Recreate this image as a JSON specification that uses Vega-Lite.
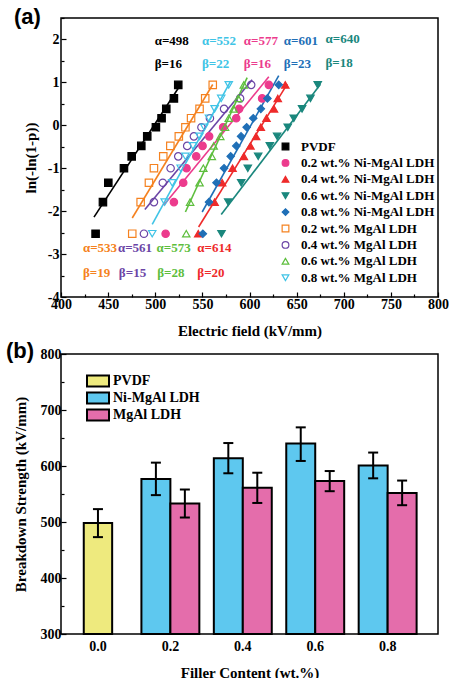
{
"$schema": "https://vega.github.io/schema/vega-lite/v6.json",
"padding": {"top": 5, "left": 5, "right": 5, "bottom": 0},
"spacing": 0,
"resolve": {"scale": {"fill": "independent", "stroke": "independent", "shape": "independent", "color": "independent"}, "legend": {"fill": "independent", "stroke": "independent", "shape": "independent", "color": "independent"}},
"config": {
 "view": {"stroke": "black", "strokeWidth": 1.5},
 "axis": {"labelFont": "Liberation Serif", "labelFontWeight": "bold", "labelFontSize": 14, "labelColor": "black", "titleFont": "Liberation Serif", "titleFontWeight": "bold", "titleFontSize": 15, "titleColor": "black", "tickColor": "black", "tickWidth": 1.2, "grid": false, "domain": false}
},
"vconcat": [
{
 "width": 377, "height": 279,
 "title": {"text": "(a)", "anchor": "start", "frame": "group", "dx": -47, "offset": -18, "fontSize": 22, "font": "Liberation Sans", "fontWeight": "bold", "color": "black"},
 "encoding": {
  "x": {"field": "x", "type": "quantitative", "scale": {"domain": [400, 800], "nice": false, "zero": false},
   "axis": {"title": "Electric field (kV/mm)", "values": [400,425,450,475,500,525,550,575,600,625,650,675,700,725,750,775,800], "labelExpr": "datum.value % 50 === 0 ? '' + datum.value : ''", "tickSize": {"condition": {"test": "datum.value % 50 === 0", "value": -5}, "value": -3}, "labelFlush": false, "labelOverlap": false, "labelPadding": 5, "titlePadding": 10}},
  "y": {"field": "y", "type": "quantitative", "scale": {"domain": [-4, 2.5], "nice": false, "zero": false},
   "axis": {"title": "ln(-ln(1-p))", "values": [-4,-3.5,-3,-2.5,-2,-1.5,-1,-0.5,0,0.5,1,1.5,2,2.5], "labelExpr": "datum.value % 1 === 0 ? '' + datum.value : ''", "tickSize": {"condition": {"test": "datum.value % 1 === 0", "value": -5}, "value": -3}, "labelFlush": false, "labelOverlap": false, "labelPadding": 7, "titlePadding": 9}}
 },
 "layer": [
  {
   "data": {"values": [
    {"s": "PVDF", "x": 435, "y": -2.14}, {"s": "PVDF", "x": 527, "y": 0.95},
    {"s": "0.2 wt.% MgAl LDH", "x": 475.6, "y": -2.16}, {"s": "0.2 wt.% MgAl LDH", "x": 561, "y": 0.95},
    {"s": "0.4 wt.% MgAl LDH", "x": 489, "y": -1.96}, {"s": "0.4 wt.% MgAl LDH", "x": 602.8, "y": 1.06},
    {"s": "0.8 wt.% MgAl LDH", "x": 496.8, "y": -2.31}, {"s": "0.8 wt.% MgAl LDH", "x": 580, "y": 1.03},
    {"s": "0.2 wt.% Ni-MgAl LDH", "x": 509, "y": -1.86}, {"s": "0.2 wt.% Ni-MgAl LDH", "x": 620.5, "y": 1.13},
    {"s": "0.6 wt.% MgAl LDH", "x": 532, "y": -2.02}, {"s": "0.6 wt.% MgAl LDH", "x": 597.5, "y": 1.11},
    {"s": "0.8 wt.% Ni-MgAl LDH", "x": 549.8, "y": -2.02}, {"s": "0.8 wt.% Ni-MgAl LDH", "x": 631, "y": 1.16},
    {"s": "0.4 wt.% Ni-MgAl LDH", "x": 546, "y": -2.37}, {"s": "0.4 wt.% Ni-MgAl LDH", "x": 640, "y": 0.96},
    {"s": "0.6 wt.% Ni-MgAl LDH", "x": 570, "y": -2.08}, {"s": "0.6 wt.% Ni-MgAl LDH", "x": 675.3, "y": 0.955}
   ]},
   "mark": {"type": "line", "strokeWidth": 1.6},
   "encoding": {
    "detail": {"field": "s", "type": "nominal"},
    "color": {"field": "s", "type": "nominal", "legend": null,
     "scale": {"domain": ["0.2 wt.% Ni-MgAl LDH","PVDF","0.4 wt.% Ni-MgAl LDH","0.6 wt.% Ni-MgAl LDH","0.8 wt.% Ni-MgAl LDH","0.2 wt.% MgAl LDH","0.4 wt.% MgAl LDH","0.6 wt.% MgAl LDH","0.8 wt.% MgAl LDH"],
      "range": ["#EC3B8D","#000000","#EE2B2B","#1A877D","#1F6FB7","#F58220","#6B45A6","#5DBE3D","#40C4E6"]}}
   }
  },
  {
   "data": {"values": [
    {"s": "PVDF", "y": -2.525, "x": 436.7}, {"s": "PVDF", "y": -1.789, "x": 444.5}, {"s": "PVDF", "y": -1.338, "x": 450.2}, {"s": "PVDF", "y": -1.0, "x": 466.8}, {"s": "PVDF", "y": -0.723, "x": 475.0}, {"s": "PVDF", "y": -0.48, "x": 485.2}, {"s": "PVDF", "y": -0.257, "x": 491.5}, {"s": "PVDF", "y": -0.046, "x": 500.7}, {"s": "PVDF", "y": 0.165, "x": 506.7}, {"s": "PVDF", "y": 0.383, "x": 511.7}, {"s": "PVDF", "y": 0.627, "x": 519.8}, {"s": "PVDF", "y": 0.942, "x": 524.4},
    {"s": "0.2 wt.% Ni-MgAl LDH", "y": -2.525, "x": 511}, {"s": "0.2 wt.% Ni-MgAl LDH", "y": -1.789, "x": 519.8}, {"s": "0.2 wt.% Ni-MgAl LDH", "y": -1.338, "x": 529.7}, {"s": "0.2 wt.% Ni-MgAl LDH", "y": -1.0, "x": 533.2}, {"s": "0.2 wt.% Ni-MgAl LDH", "y": -0.723, "x": 543.5}, {"s": "0.2 wt.% Ni-MgAl LDH", "y": -0.48, "x": 550.2}, {"s": "0.2 wt.% Ni-MgAl LDH", "y": -0.257, "x": 557.2}, {"s": "0.2 wt.% Ni-MgAl LDH", "y": -0.046, "x": 572}, {"s": "0.2 wt.% Ni-MgAl LDH", "y": 0.165, "x": 585.9}, {"s": "0.2 wt.% Ni-MgAl LDH", "y": 0.383, "x": 589}, {"s": "0.2 wt.% Ni-MgAl LDH", "y": 0.627, "x": 613.4}, {"s": "0.2 wt.% Ni-MgAl LDH", "y": 0.942, "x": 620.5},
    {"s": "0.4 wt.% Ni-MgAl LDH", "y": -2.525, "x": 545.6}, {"s": "0.4 wt.% Ni-MgAl LDH", "y": -1.789, "x": 563}, {"s": "0.4 wt.% Ni-MgAl LDH", "y": -1.338, "x": 571}, {"s": "0.4 wt.% Ni-MgAl LDH", "y": -1.0, "x": 582}, {"s": "0.4 wt.% Ni-MgAl LDH", "y": -0.723, "x": 594}, {"s": "0.4 wt.% Ni-MgAl LDH", "y": -0.48, "x": 601}, {"s": "0.4 wt.% Ni-MgAl LDH", "y": -0.257, "x": 607}, {"s": "0.4 wt.% Ni-MgAl LDH", "y": -0.046, "x": 612}, {"s": "0.4 wt.% Ni-MgAl LDH", "y": 0.165, "x": 618}, {"s": "0.4 wt.% Ni-MgAl LDH", "y": 0.383, "x": 626}, {"s": "0.4 wt.% Ni-MgAl LDH", "y": 0.627, "x": 630}, {"s": "0.4 wt.% Ni-MgAl LDH", "y": 0.942, "x": 638},
    {"s": "0.6 wt.% Ni-MgAl LDH", "y": -2.525, "x": 570.3}, {"s": "0.6 wt.% Ni-MgAl LDH", "y": -1.789, "x": 577.4}, {"s": "0.6 wt.% Ni-MgAl LDH", "y": -1.338, "x": 591.2}, {"s": "0.6 wt.% Ni-MgAl LDH", "y": -1.0, "x": 598.2}, {"s": "0.6 wt.% Ni-MgAl LDH", "y": -0.723, "x": 609.2}, {"s": "0.6 wt.% Ni-MgAl LDH", "y": -0.48, "x": 621.6}, {"s": "0.6 wt.% Ni-MgAl LDH", "y": -0.257, "x": 629.3}, {"s": "0.6 wt.% Ni-MgAl LDH", "y": -0.046, "x": 640.6}, {"s": "0.6 wt.% Ni-MgAl LDH", "y": 0.165, "x": 647}, {"s": "0.6 wt.% Ni-MgAl LDH", "y": 0.383, "x": 655.8}, {"s": "0.6 wt.% Ni-MgAl LDH", "y": 0.627, "x": 664.7}, {"s": "0.6 wt.% Ni-MgAl LDH", "y": 0.942, "x": 672.4},
    {"s": "0.8 wt.% Ni-MgAl LDH", "y": -2.525, "x": 550.5}, {"s": "0.8 wt.% Ni-MgAl LDH", "y": -1.789, "x": 557}, {"s": "0.8 wt.% Ni-MgAl LDH", "y": -1.338, "x": 565}, {"s": "0.8 wt.% Ni-MgAl LDH", "y": -1.0, "x": 573}, {"s": "0.8 wt.% Ni-MgAl LDH", "y": -0.723, "x": 580}, {"s": "0.8 wt.% Ni-MgAl LDH", "y": -0.48, "x": 586}, {"s": "0.8 wt.% Ni-MgAl LDH", "y": -0.257, "x": 591}, {"s": "0.8 wt.% Ni-MgAl LDH", "y": -0.046, "x": 597}, {"s": "0.8 wt.% Ni-MgAl LDH", "y": 0.165, "x": 604}, {"s": "0.8 wt.% Ni-MgAl LDH", "y": 0.383, "x": 612}, {"s": "0.8 wt.% Ni-MgAl LDH", "y": 0.627, "x": 619}, {"s": "0.8 wt.% Ni-MgAl LDH", "y": 0.942, "x": 631},
    {"s": "0.2 wt.% MgAl LDH", "y": -2.525, "x": 475.6}, {"s": "0.2 wt.% MgAl LDH", "y": -1.789, "x": 484.5}, {"s": "0.2 wt.% MgAl LDH", "y": -1.338, "x": 493.3}, {"s": "0.2 wt.% MgAl LDH", "y": -1.0, "x": 498.6}, {"s": "0.2 wt.% MgAl LDH", "y": -0.723, "x": 508.5}, {"s": "0.2 wt.% MgAl LDH", "y": -0.48, "x": 516}, {"s": "0.2 wt.% MgAl LDH", "y": -0.257, "x": 525}, {"s": "0.2 wt.% MgAl LDH", "y": -0.046, "x": 532}, {"s": "0.2 wt.% MgAl LDH", "y": 0.165, "x": 538}, {"s": "0.2 wt.% MgAl LDH", "y": 0.383, "x": 547}, {"s": "0.2 wt.% MgAl LDH", "y": 0.627, "x": 553}, {"s": "0.2 wt.% MgAl LDH", "y": 0.942, "x": 561},
    {"s": "0.4 wt.% MgAl LDH", "y": -2.525, "x": 488}, {"s": "0.4 wt.% MgAl LDH", "y": -1.789, "x": 498.6}, {"s": "0.4 wt.% MgAl LDH", "y": -1.338, "x": 508}, {"s": "0.4 wt.% MgAl LDH", "y": -1.0, "x": 516.3}, {"s": "0.4 wt.% MgAl LDH", "y": -0.723, "x": 524.4}, {"s": "0.4 wt.% MgAl LDH", "y": -0.48, "x": 533.9}, {"s": "0.4 wt.% MgAl LDH", "y": -0.257, "x": 541}, {"s": "0.4 wt.% MgAl LDH", "y": -0.046, "x": 549}, {"s": "0.4 wt.% MgAl LDH", "y": 0.165, "x": 558}, {"s": "0.4 wt.% MgAl LDH", "y": 0.383, "x": 573}, {"s": "0.4 wt.% MgAl LDH", "y": 0.627, "x": 590}, {"s": "0.4 wt.% MgAl LDH", "y": 0.942, "x": 601.8},
    {"s": "0.6 wt.% MgAl LDH", "y": -2.525, "x": 532.9}, {"s": "0.6 wt.% MgAl LDH", "y": -1.789, "x": 537}, {"s": "0.6 wt.% MgAl LDH", "y": -1.338, "x": 547}, {"s": "0.6 wt.% MgAl LDH", "y": -1.0, "x": 551}, {"s": "0.6 wt.% MgAl LDH", "y": -0.723, "x": 560}, {"s": "0.6 wt.% MgAl LDH", "y": -0.48, "x": 562}, {"s": "0.6 wt.% MgAl LDH", "y": -0.257, "x": 569}, {"s": "0.6 wt.% MgAl LDH", "y": -0.046, "x": 574}, {"s": "0.6 wt.% MgAl LDH", "y": 0.165, "x": 578}, {"s": "0.6 wt.% MgAl LDH", "y": 0.383, "x": 583}, {"s": "0.6 wt.% MgAl LDH", "y": 0.627, "x": 588}, {"s": "0.6 wt.% MgAl LDH", "y": 0.942, "x": 594},
    {"s": "0.8 wt.% MgAl LDH", "y": -2.525, "x": 496.8}, {"s": "0.8 wt.% MgAl LDH", "y": -1.789, "x": 510}, {"s": "0.8 wt.% MgAl LDH", "y": -1.338, "x": 518}, {"s": "0.8 wt.% MgAl LDH", "y": -1.0, "x": 527}, {"s": "0.8 wt.% MgAl LDH", "y": -0.723, "x": 532}, {"s": "0.8 wt.% MgAl LDH", "y": -0.48, "x": 540}, {"s": "0.8 wt.% MgAl LDH", "y": -0.257, "x": 547}, {"s": "0.8 wt.% MgAl LDH", "y": -0.046, "x": 552}, {"s": "0.8 wt.% MgAl LDH", "y": 0.165, "x": 557}, {"s": "0.8 wt.% MgAl LDH", "y": 0.383, "x": 563}, {"s": "0.8 wt.% MgAl LDH", "y": 0.627, "x": 570}, {"s": "0.8 wt.% MgAl LDH", "y": 0.942, "x": 578}
   ]},
   "mark": {"type": "point", "filled": true, "size": 55, "strokeWidth": 1.2, "opacity": 1},
   "encoding": {
    "shape": {"field": "s", "type": "nominal",
     "scale": {"domain": ["PVDF","0.2 wt.% Ni-MgAl LDH","0.4 wt.% Ni-MgAl LDH","0.6 wt.% Ni-MgAl LDH","0.8 wt.% Ni-MgAl LDH","0.2 wt.% MgAl LDH","0.4 wt.% MgAl LDH","0.6 wt.% MgAl LDH","0.8 wt.% MgAl LDH"],
      "range": ["square","circle","triangle-up","triangle-down","diamond","square","circle","triangle-up","triangle-down"]},
     "legend": {"title": null, "orient": "none", "legendX": 218, "legendY": 122, "padding": 0, "labelFont": "Liberation Serif", "labelFontWeight": "bold", "labelFontSize": 13, "labelColor": "black", "symbolSize": 45, "symbolStrokeWidth": 1.2, "rowPadding": 2.4, "labelOffset": 9}},
    "fill": {"field": "s", "type": "nominal",
     "scale": {"domain": ["PVDF","0.2 wt.% Ni-MgAl LDH","0.4 wt.% Ni-MgAl LDH","0.6 wt.% Ni-MgAl LDH","0.8 wt.% Ni-MgAl LDH","0.2 wt.% MgAl LDH","0.4 wt.% MgAl LDH","0.6 wt.% MgAl LDH","0.8 wt.% MgAl LDH"],
      "range": ["#000000","#EC3B8D","#EE2B2B","#1A877D","#1F6FB7","transparent","transparent","transparent","transparent"]},
     "legend": {"title": null, "orient": "none", "legendX": 218, "legendY": 122, "padding": 0, "labelFont": "Liberation Serif", "labelFontWeight": "bold", "labelFontSize": 13, "labelColor": "black", "symbolSize": 45, "symbolStrokeWidth": 1.2, "rowPadding": 2.4, "labelOffset": 9}},
    "stroke": {"field": "s", "type": "nominal",
     "scale": {"domain": ["PVDF","0.2 wt.% Ni-MgAl LDH","0.4 wt.% Ni-MgAl LDH","0.6 wt.% Ni-MgAl LDH","0.8 wt.% Ni-MgAl LDH","0.2 wt.% MgAl LDH","0.4 wt.% MgAl LDH","0.6 wt.% MgAl LDH","0.8 wt.% MgAl LDH"],
      "range": ["#000000","#EC3B8D","#EE2B2B","#1A877D","#1F6FB7","#F58220","#6B45A6","#5DBE3D","#40C4E6"]},
     "legend": {"title": null, "orient": "none", "legendX": 218, "legendY": 122, "padding": 0, "labelFont": "Liberation Serif", "labelFontWeight": "bold", "labelFontSize": 13, "labelColor": "black", "symbolSize": 45, "symbolStrokeWidth": 1.2, "rowPadding": 2.4, "labelOffset": 9}}
   }
  },
  {
   "data": {"values": [
    {"t": "α=498", "x": 499.4, "y": 1.97, "s": "PVDF"}, {"t": "β=16", "x": 499.4, "y": 1.42, "s": "PVDF"},
    {"t": "α=552", "x": 549.5, "y": 1.97, "s": "0.8 wt.% MgAl LDH"}, {"t": "β=22", "x": 549.5, "y": 1.42, "s": "0.8 wt.% MgAl LDH"},
    {"t": "α=577", "x": 594, "y": 1.97, "s": "0.2 wt.% Ni-MgAl LDH"}, {"t": "β=16", "x": 594, "y": 1.42, "s": "0.2 wt.% Ni-MgAl LDH"},
    {"t": "α=601", "x": 636.4, "y": 1.97, "s": "0.8 wt.% Ni-MgAl LDH"}, {"t": "β=23", "x": 636.4, "y": 1.42, "s": "0.8 wt.% Ni-MgAl LDH"},
    {"t": "α=640", "x": 680.6, "y": 2.01, "s": "0.6 wt.% Ni-MgAl LDH"}, {"t": "β=18", "x": 680.6, "y": 1.46, "s": "0.6 wt.% Ni-MgAl LDH"},
    {"t": "α=533", "x": 423.3, "y": -2.87, "s": "0.2 wt.% MgAl LDH"}, {"t": "β=19", "x": 423.3, "y": -3.43, "s": "0.2 wt.% MgAl LDH"},
    {"t": "α=561", "x": 460.4, "y": -2.87, "s": "0.4 wt.% MgAl LDH"}, {"t": "β=15", "x": 461.4, "y": -3.43, "s": "0.4 wt.% MgAl LDH"},
    {"t": "α=573", "x": 501.4, "y": -2.87, "s": "0.6 wt.% MgAl LDH"}, {"t": "β=28", "x": 502.1, "y": -3.43, "s": "0.6 wt.% MgAl LDH"},
    {"t": "α=614", "x": 544.6, "y": -2.87, "s": "0.4 wt.% Ni-MgAl LDH"}, {"t": "β=20", "x": 544.6, "y": -3.43, "s": "0.4 wt.% Ni-MgAl LDH"}
   ]},
   "mark": {"type": "text", "align": "left", "baseline": "middle", "font": "Liberation Serif", "fontWeight": "bold", "fontSize": 13},
   "encoding": {
    "text": {"field": "t", "type": "nominal"},
    "color": {"field": "s", "type": "nominal", "legend": null,
     "scale": {"domain": ["0.2 wt.% Ni-MgAl LDH","PVDF","0.4 wt.% Ni-MgAl LDH","0.6 wt.% Ni-MgAl LDH","0.8 wt.% Ni-MgAl LDH","0.2 wt.% MgAl LDH","0.4 wt.% MgAl LDH","0.6 wt.% MgAl LDH","0.8 wt.% MgAl LDH"],
      "range": ["#EC3B8D","#000000","#EE2B2B","#1A877D","#1F6FB7","#F58220","#6B45A6","#5DBE3D","#40C4E6"]}}
   }
  }
 ]
},
{
 "width": 377, "height": 280,
 "title": {"text": "(b)", "anchor": "start", "frame": "group", "dx": -55, "offset": -16, "fontSize": 22, "font": "Liberation Sans", "fontWeight": "bold", "color": "black"},
 "data": {"values": [
  {"c": "0.0", "g": "PVDF", "v": 498, "lo": 473, "hi": 523},
  {"c": "0.2", "g": "Ni-MgAl LDH", "v": 577, "lo": 548, "hi": 606},
  {"c": "0.2", "g": "MgAl LDH", "v": 533, "lo": 508, "hi": 558},
  {"c": "0.4", "g": "Ni-MgAl LDH", "v": 614, "lo": 587, "hi": 641},
  {"c": "0.4", "g": "MgAl LDH", "v": 561, "lo": 534, "hi": 588},
  {"c": "0.6", "g": "Ni-MgAl LDH", "v": 640, "lo": 609, "hi": 669},
  {"c": "0.6", "g": "MgAl LDH", "v": 573, "lo": 555, "hi": 591},
  {"c": "0.8", "g": "Ni-MgAl LDH", "v": 601, "lo": 578, "hi": 624},
  {"c": "0.8", "g": "MgAl LDH", "v": 552, "lo": 530, "hi": 574}
 ]},
 "encoding": {
  "x": {"field": "c", "type": "nominal", "sort": ["0.0","0.2","0.4","0.6","0.8"],
   "scale": {"paddingInner": 0.2, "paddingOuter": 0.2028, "align": 0.272},
   "axis": {"title": "Filler Content (wt.%)", "labelAngle": 0, "ticks": false, "labelPadding": 5, "titlePadding": 12}}
 },
 "layer": [
  {
   "transform": [{"filter": "datum.g === 'PVDF'"}],
   "mark": {"type": "bar", "width": {"band": 0.49}, "stroke": "black", "strokeWidth": 2},
   "encoding": {
    "y": {"field": "v", "type": "quantitative", "scale": {"domain": [300, 800], "nice": false, "zero": false},
     "axis": {"title": "Breakdown Strength (kV/mm)", "values": [300,350,400,450,500,550,600,650,700,750,800], "labelExpr": "datum.value % 100 === 0 ? '' + datum.value : ''", "tickSize": {"condition": {"test": "datum.value % 100 === 0", "value": -5}, "value": -3}, "labelFlush": false, "labelOverlap": false, "labelPadding": 5, "titlePadding": 12}},
    "y2": {"datum": 300},
    "fill": {"field": "g", "type": "nominal", "scale": {"domain": ["PVDF","Ni-MgAl LDH","MgAl LDH"], "range": ["#EEEA7E","#5EC8EF","#E46DAB"]},
     "legend": {"title": null, "orient": "none", "legendX": 30, "legendY": 20, "padding": 0, "symbolType": "M-2,-1H2V1H-2Z", "symbolSize": 121, "symbolStrokeColor": "black", "symbolStrokeWidth": 2, "labelFont": "Liberation Serif", "labelFontWeight": "bold", "labelFontSize": 14, "labelColor": "black", "rowPadding": -4, "labelOffset": 8}}
   }
  },
  {
   "transform": [{"filter": "datum.g !== 'PVDF'"}],
   "mark": {"type": "bar", "stroke": "black", "strokeWidth": 2},
   "encoding": {
    "xOffset": {"field": "g", "type": "nominal", "scale": {"domain": ["Ni-MgAl LDH","MgAl LDH"], "paddingInner": 0, "paddingOuter": 0}},
    "y": {"field": "v", "type": "quantitative", "scale": {"domain": [300, 800], "nice": false, "zero": false},
     "axis": {"title": "Breakdown Strength (kV/mm)", "values": [300,350,400,450,500,550,600,650,700,750,800], "labelExpr": "datum.value % 100 === 0 ? '' + datum.value : ''", "tickSize": {"condition": {"test": "datum.value % 100 === 0", "value": -5}, "value": -3}, "labelFlush": false, "labelOverlap": false, "labelPadding": 5, "titlePadding": 12}},
    "y2": {"datum": 300},
    "fill": {"field": "g", "type": "nominal", "scale": {"domain": ["PVDF","Ni-MgAl LDH","MgAl LDH"], "range": ["#EEEA7E","#5EC8EF","#E46DAB"]},
     "legend": {"title": null, "orient": "none", "legendX": 30, "legendY": 20, "padding": 0, "symbolType": "M-2,-1H2V1H-2Z", "symbolSize": 121, "symbolStrokeColor": "black", "symbolStrokeWidth": 2, "labelFont": "Liberation Serif", "labelFontWeight": "bold", "labelFontSize": 14, "labelColor": "black", "rowPadding": -4, "labelOffset": 8}}
   }
  },
  {
   "transform": [{"filter": "datum.g === 'PVDF'"}, {"fold": ["lo", "hi"], "as": ["k", "ev"]}],
   "mark": {"type": "tick", "size": 10, "thickness": 2, "color": "black", "opacity": 1},
   "encoding": {
    "y": {"field": "ev", "type": "quantitative", "scale": {"domain": [300, 800], "nice": false, "zero": false},
     "axis": {"title": "Breakdown Strength (kV/mm)", "values": [300,350,400,450,500,550,600,650,700,750,800], "labelExpr": "datum.value % 100 === 0 ? '' + datum.value : ''", "tickSize": {"condition": {"test": "datum.value % 100 === 0", "value": -5}, "value": -3}, "labelFlush": false, "labelOverlap": false, "labelPadding": 5, "titlePadding": 12}}
   }
  },
  {
   "transform": [{"filter": "datum.g !== 'PVDF'"}, {"fold": ["lo", "hi"], "as": ["k", "ev"]}],
   "mark": {"type": "tick", "size": 10, "thickness": 2, "color": "black", "opacity": 1},
   "encoding": {
    "xOffset": {"field": "g", "type": "nominal", "scale": {"domain": ["Ni-MgAl LDH","MgAl LDH"], "paddingInner": 0, "paddingOuter": 0}},
    "y": {"field": "ev", "type": "quantitative", "scale": {"domain": [300, 800], "nice": false, "zero": false},
     "axis": {"title": "Breakdown Strength (kV/mm)", "values": [300,350,400,450,500,550,600,650,700,750,800], "labelExpr": "datum.value % 100 === 0 ? '' + datum.value : ''", "tickSize": {"condition": {"test": "datum.value % 100 === 0", "value": -5}, "value": -3}, "labelFlush": false, "labelOverlap": false, "labelPadding": 5, "titlePadding": 12}}
   }
  },
  {
   "transform": [{"filter": "datum.g === 'PVDF'"}],
   "mark": {"type": "rule", "strokeWidth": 2, "color": "black"},
   "encoding": {
    "y": {"field": "lo", "type": "quantitative", "scale": {"domain": [300, 800], "nice": false, "zero": false},
     "axis": {"title": "Breakdown Strength (kV/mm)", "values": [300,350,400,450,500,550,600,650,700,750,800], "labelExpr": "datum.value % 100 === 0 ? '' + datum.value : ''", "tickSize": {"condition": {"test": "datum.value % 100 === 0", "value": -5}, "value": -3}, "labelFlush": false, "labelOverlap": false, "labelPadding": 5, "titlePadding": 12}},
    "y2": {"field": "hi"}
   }
  },
  {
   "transform": [{"filter": "datum.g !== 'PVDF'"}],
   "mark": {"type": "rule", "strokeWidth": 2, "color": "black"},
   "encoding": {
    "xOffset": {"field": "g", "type": "nominal", "scale": {"domain": ["Ni-MgAl LDH","MgAl LDH"], "paddingInner": 0, "paddingOuter": 0}},
    "y": {"field": "lo", "type": "quantitative", "scale": {"domain": [300, 800], "nice": false, "zero": false},
     "axis": {"title": "Breakdown Strength (kV/mm)", "values": [300,350,400,450,500,550,600,650,700,750,800], "labelExpr": "datum.value % 100 === 0 ? '' + datum.value : ''", "tickSize": {"condition": {"test": "datum.value % 100 === 0", "value": -5}, "value": -3}, "labelFlush": false, "labelOverlap": false, "labelPadding": 5, "titlePadding": 12}},
    "y2": {"field": "hi"}
   }
  }
 ]
}
]
}
